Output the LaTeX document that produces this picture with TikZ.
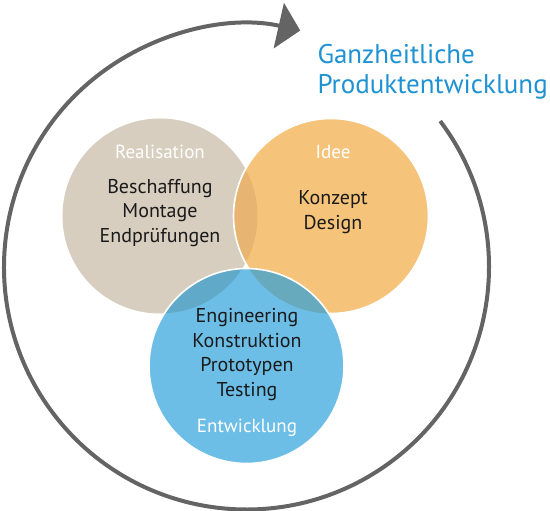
\documentclass[tikz,border=0pt]{standalone}
\usepackage{fontspec}
\setmainfont{PT Sans}
\usetikzlibrary{arrows.meta,positioning}

\definecolor{sand}{HTML}{D7CEBF}
\definecolor{apricot}{HTML}{F6C37B}
\definecolor{sky}{HTML}{6DBEE6}
\definecolor{sandapricot}{HTML}{E8B472}
\definecolor{skysand}{HTML}{60A9C8}
\definecolor{skyapricot}{HTML}{67AABD}
\definecolor{skyall}{HTML}{5C9DB2}
\definecolor{ringgrey}{HTML}{646464}
\definecolor{titleblue}{HTML}{1E92D2}
\definecolor{darktext}{HTML}{1A1A1A}

\begin{document}
\begin{tikzpicture}[
  x=1pt,
  y=1pt,
  rim/.style={
    draw=white,
    line width=1.6pt
  },
  phase/.style={
    text=white,
    font=\fontsize{19}{22}\selectfont
  },
  tasks/.style={
    text=darktext,
    font=\fontsize{20}{24.5}\selectfont,
    align=center
  },
  ring/.style={
    draw=ringgrey,
    line width=4pt,
    -{Triangle[length=22pt,width=46pt]}
  }
]

% frame
\useasboundingbox[fill=white] (0,0) rectangle (550,511);

% circle centres
\def\rad{97.5}
\coordinate (real) at (160,295);
\coordinate (idee) at (331,295);
\coordinate (entw) at (246.5,145);
\coordinate (hub) at (246.5,244);

% Realisation and Idee
\fill[sand] (real) circle (\rad);
\fill[apricot] (idee) circle (\rad);
\begin{scope}
  \clip (real) circle (\rad);
  \fill[sandapricot] (idee) circle (\rad);
\end{scope}
\draw[rim] (idee) circle (\rad);

% Entwicklung
\fill[sky] (entw) circle (\rad);
\begin{scope}
  \clip (entw) circle (\rad);
  \fill[skysand] (real) circle (\rad);
  \fill[skyapricot] (idee) circle (\rad);
  \clip (real) circle (\rad);
  \fill[skyall] (idee) circle (\rad);
\end{scope}
\draw[rim] (entw) circle (\rad);

% outer cycle arrow
\draw[ring] (hub) ++(37:242.5) arc[start angle=37, end angle=-282.8, radius=242.5];

% labels
\node[phase] (lreal) at (160,359) {Realisation};
\node[tasks] (treal) at (160,298) {Beschaffung\\Montage\\Endprüfungen};
\node[phase] (lidee) at (333,359) {Idee};
\node[tasks] (tidee) at (333,299) {Konzept\\Design};
\node[tasks] (tentw) at (247,156.5) {Engineering\\Konstruktion\\Prototypen\\Testing};
\node[phase] (lentw) at (247,83) {Entwicklung};

% title
\node[anchor=west, text=titleblue, align=left,
  font=\fontsize{27}{30}\selectfont] (title) at (314,439) {Ganzheitliche\\Produktentwicklung};

\end{tikzpicture}
\end{document}
